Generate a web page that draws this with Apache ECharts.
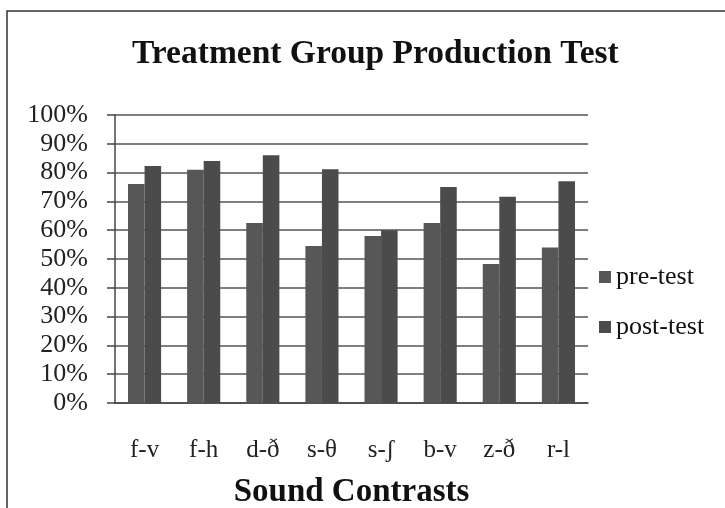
<!DOCTYPE html>
<html>
<head>
<meta charset="utf-8">
<script src="https://cdn.jsdelivr.net/npm/echarts@6/dist/echarts.min.js"></script>
<style>html,body{margin:0;padding:0;background:#fff;}#c{width:725px;height:508px;}</style>
</head>
<body>
<div id="c"></div>
<script>
var categories = ['f-v', 'f-h', 'd-ð', 's-θ', 's-ʃ', 'b-v', 'z-ð', 'r-l'];
var preTest = [0.76, 0.81, 0.625, 0.545, 0.58, 0.625, 0.483, 0.54];
var postTest = [0.823, 0.84, 0.86, 0.812, 0.60, 0.75, 0.716, 0.77];
var yTicks = [0, 0.1, 0.2, 0.3, 0.4, 0.5, 0.6, 0.7, 0.8, 0.9, 1.0];

var serif = '"Liberation Serif", "Times New Roman", serif';
var chart = echarts.init(document.getElementById('c'));
chart.setOption({
  backgroundColor: '#fff',
  animation: false,
  graphic: [{
    type: 'rect', shape: {x: 7, y: 11, width: 800, height: 600},
    style: {fill: 'none', stroke: '#333', lineWidth: 1.5}, silent: true
  }],
  title: {
    text: 'Treatment Group Production Test',
    left: 127, top: 32,
    textStyle: {fontFamily: serif, fontWeight: 'bold', fontSize: 33.5, color: '#111'}
  },
  legend: {
    orient: 'vertical', left: 594, top: 258,
    icon: 'rect', itemWidth: 12, itemHeight: 12, itemGap: 22, itemStyle: {borderWidth: 0},
    textStyle: {fontFamily: serif, fontSize: 26, color: '#111', lineHeight: 28},
    data: ['pre-test', 'post-test']
  },
  grid: {left: 115, right: 137, top: 115, bottom: 105, containLabel: false, outerBoundsMode: 'none'},
  xAxis: {
    type: 'category', data: categories,
    axisLine: {lineStyle: {color: '#444', width: 1.5}},
    axisTick: {show: false},
    axisLabel: {margin: 35, fontFamily: serif, fontSize: 25, color: '#222'},
    name: 'Sound Contrasts', nameLocation: 'middle', nameGap: 73,
    nameTextStyle: {fontFamily: serif, fontWeight: 'bold', fontSize: 33, color: '#111'}
  },
  yAxis: {
    type: 'value', min: 0, max: 1, interval: 0.1,
    axisLine: {show: true, lineStyle: {color: '#444', width: 1.5}},
    axisTick: {show: true, length: 8, lineStyle: {color: '#444', width: 1.5}},
    axisLabel: {margin: 27, fontFamily: serif, fontSize: 26, color: '#222',
      formatter: function (v) { return Math.round(v * 100) + '%'; }},
    splitLine: {lineStyle: {color: '#555', width: 1.5}}
  },
  series: [{
    name: 'pre-test', type: 'bar', data: preTest,
    barGap: '0%', barCategoryGap: '44%',
    itemStyle: {color: '#575757'}
  }, {
    name: 'post-test', type: 'bar', data: postTest,
    barGap: '0%', barCategoryGap: '44%',
    itemStyle: {color: '#4b4b4b'}
  }]
});
</script>
</body>
</html>
